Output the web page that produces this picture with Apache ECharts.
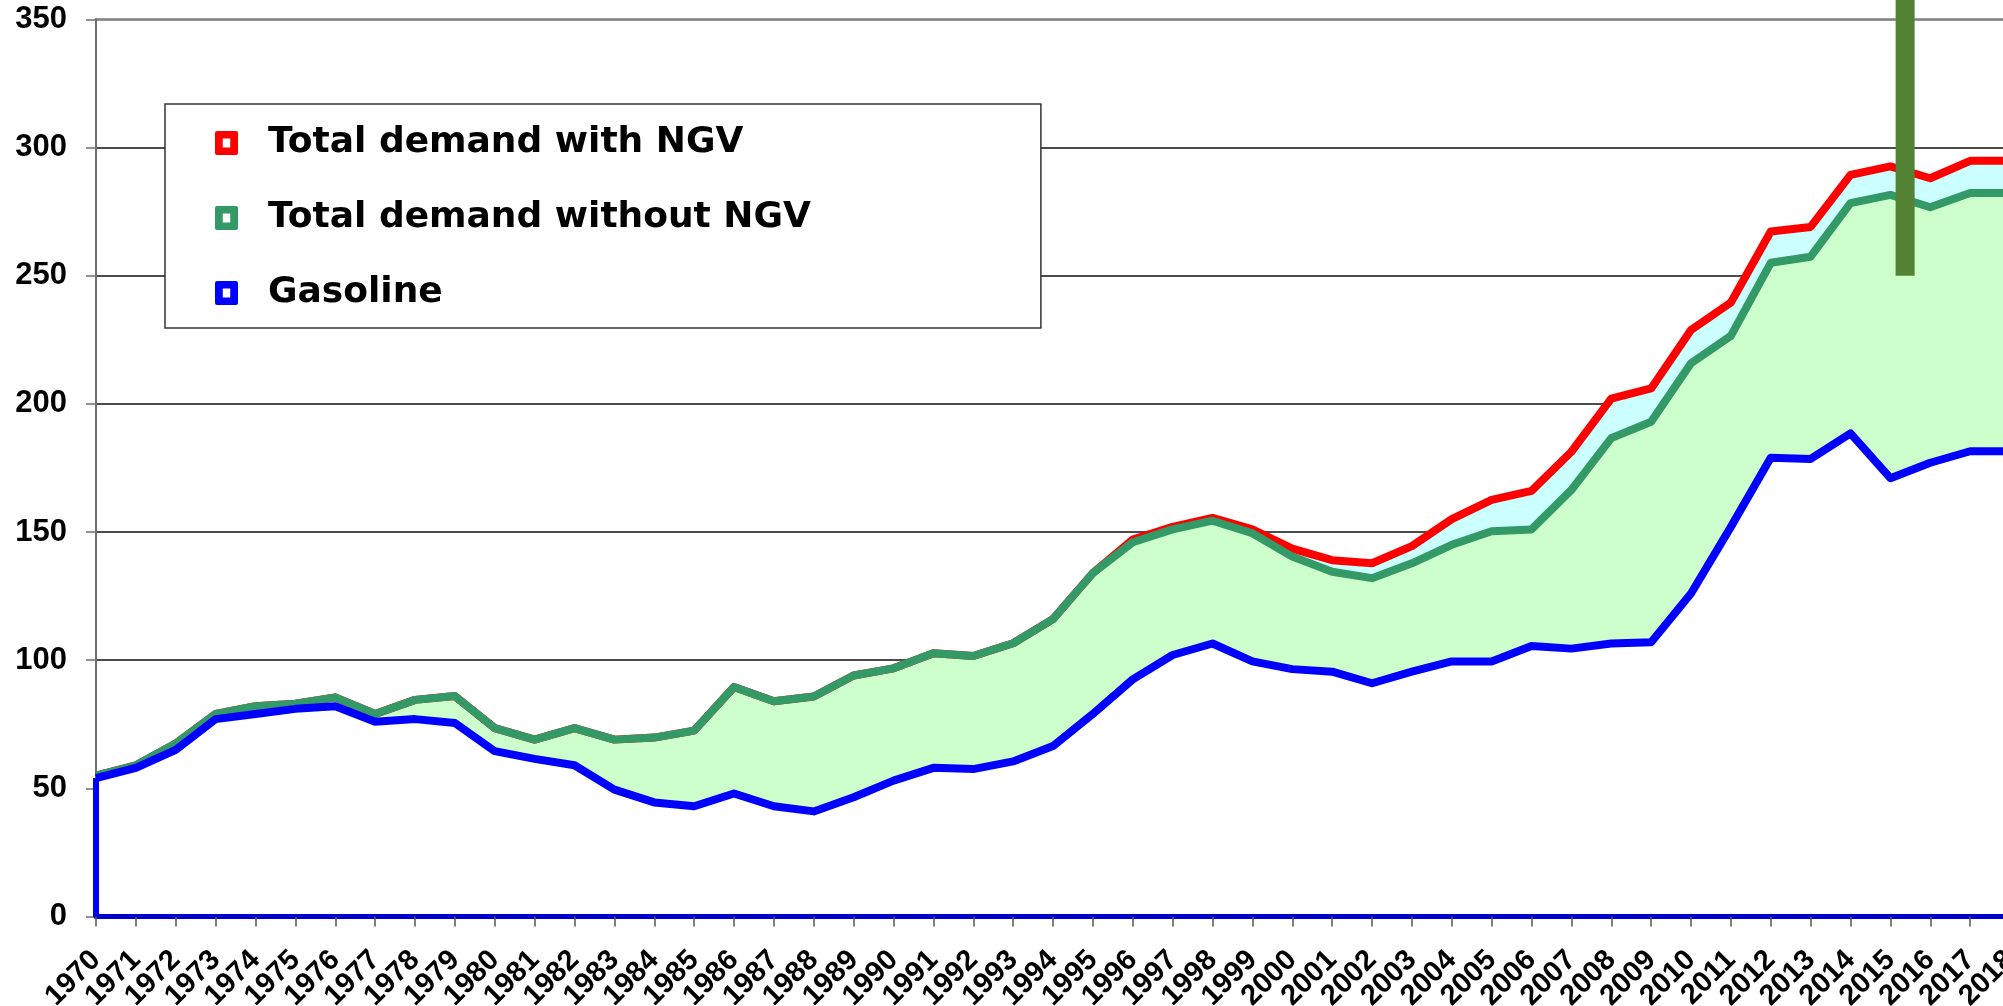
<!DOCTYPE html>
<html>
<head>
<meta charset="utf-8">
<script src="https://cdn.jsdelivr.net/npm/echarts@6/dist/echarts.min.js"></script>
<style>
html,body{margin:0;padding:0;background:#fff;}
#chart{width:2003px;height:1006px;}
</style>
</head>
<body>
<div id="chart"></div>
<script>
// ---- data ----
const years = ['1970','1971','1972','1973','1974','1975','1976','1977','1978','1979',
  '1980','1981','1982','1983','1984','1985','1986','1987','1988','1989',
  '1990','1991','1992','1993','1994','1995','1996','1997','1998','1999',
  '2000','2001','2002','2003','2004','2005','2006','2007','2008','2009',
  '2010','2011','2012','2013','2014','2015','2016','2017','2018'];

const totalWithNGV = [55, 59, 67.5, 79, 82, 83, 85.5, 79, 84.5, 86,
  73.5, 69, 73.5, 69, 69.8, 72.5, 89.5, 84, 85.8, 94,
  96.8, 102.7, 101.6, 106.6, 116, 134, 147, 152, 155.5, 151,
  143.5, 139, 137.8, 144.5, 155, 162.5, 166, 181.3, 202, 206,
  228.8, 239.5, 267.2, 269, 289.3, 292.6, 288, 294.8, 294.8];

const totalWithoutNGV = [55, 59, 67.5, 79, 82, 83, 85.5, 79, 84.5, 86,
  73.5, 69, 73.5, 69, 69.8, 72.5, 89.5, 84, 85.8, 94,
  96.8, 102.7, 101.6, 106.6, 116, 134, 146, 151, 154.4, 149.5,
  140.4, 134.5, 132, 137.8, 145, 150.3, 151, 166.4, 186.6, 193,
  215.8, 226.5, 255, 257.4, 278.3, 281.5, 276.7, 282.2, 282.2];

const gasoline = [54, 58, 65, 77, 79, 81, 82, 76, 77, 75.5,
  64.5, 61.5, 59, 49.5, 44.5, 43, 48, 43, 41, 46.5,
  53, 58, 57.5, 60.5, 66.5, 79, 92.5, 102, 106.5, 99.5,
  96.5, 95.5, 91, 95.5, 99.5, 99.5, 105.5, 104.5, 106.5, 107,
  126, 152, 179, 178.5, 188.5, 171, 177, 181.5, 181.5];

const seriesNames = ['Total demand with NGV', 'Total demand without NGV', 'Gasoline'];
const yMin = 0, yMax = 350, yStep = 50;

// vertical marker (year position, value range)
const markerYear = 2015.37;
const markerRange = [250, 362];

// ---- chart ----
const chart = echarts.init(document.getElementById('chart'), null, {renderer: 'canvas'});

const labelFont = '"Liberation Sans", Arial, sans-serif';
const iconPath = 'path://M2,0H21Q23,0,23,2V22Q23,24,21,24H2Q0,24,0,22V2Q0,0,2,0Z M7.75,7.5V16.5H15.25V7.5Z';

const splitColors = [];
for (let v = yMin; v <= yMax; v += yStep) splitColors.push(v === yMax ? '#808080' : '#111');

function lineSeries(name, data, lineColor, fillColor, extra) {
  return Object.assign({
    name: name,
    type: 'line',
    data: data,
    symbol: 'none',
    smooth: false,
    lineStyle: {color: lineColor, width: 8, join: 'round'},
    itemStyle: {color: lineColor},
    areaStyle: {color: fillColor, opacity: 1},
    z: 2,
    silent: true
  }, extra || {});
}

chart.setOption({
  animation: false,
  backgroundColor: '#ffffff',
  grid: {
    left: 96, right: -7, top: 19.3, bottom: 89.5,
    outerBoundsMode: 'none',
    containLabel: false,
    show: true, borderColor: '#808080', borderWidth: 2, backgroundColor: 'transparent'
  },
  legend: {
    orient: 'vertical',
    left: 165, top: 104,
    padding: [21, 230, 17, 50],
    itemGap: 39,
    itemWidth: 23, itemHeight: 24,
    icon: iconPath,
    backgroundColor: '#ffffff',
    borderColor: '#333333',
    borderWidth: 1.5,
    selectedMode: false,
    itemStyle: {borderWidth: 0},
    textStyle: {
      fontFamily: '"DejaVu Sans", sans-serif', fontWeight: 'bold', fontSize: 36,
      color: '#000', lineHeight: 36, padding: [0, 0, 0, 25]
    },
    data: seriesNames
  },
  xAxis: [{
    type: 'category',
    data: years,
    boundaryGap: false,
    z: 6,
    axisLine: {show: true, lineStyle: {color: '#0000cc', width: 5}},
    axisTick: {show: true, interval: 0, length: 10, lineStyle: {color: '#555', width: 1.5}},
    axisLabel: {
      interval: 0, rotate: 45, margin: 39,
      fontFamily: labelFont, fontWeight: 'bold', fontSize: 29, color: '#000'
    },
    splitLine: {show: false}
  }, {
    type: 'value',
    min: 1970, max: 2018,
    show: false,
    gridIndex: 0
  }],
  yAxis: {
    type: 'value',
    min: yMin, max: yMax, interval: yStep,
    axisLine: {show: true, lineStyle: {color: '#707070', width: 2}},
    axisTick: {show: true, length: 10, lineStyle: {color: '#707070', width: 1.5}},
    axisLabel: {
      margin: 29, fontFamily: labelFont, fontWeight: 'bold', fontSize: 31, color: '#000'
    },
    splitLine: {show: true, lineStyle: {color: splitColors, width: 1.5}}
  },
  series: [
    lineSeries(seriesNames[0], totalWithNGV, '#ff0000', '#ccffff'),
    lineSeries(seriesNames[1], totalWithoutNGV, '#339966', '#ccffcc'),
    lineSeries(seriesNames[2], gasoline, '#0000ff', '#ffffff', {
      markLine: {
        silent: true,
        symbol: ['none', 'none'],
        label: {show: false},
        lineStyle: {color: '#0000ff', width: 6, type: 'solid'},
        data: [[{coord: [years[0], yMin]}, {coord: [years[0], gasoline[0]]}]]
      }
    }),
    {
      name: 'marker',
      type: 'line',
      xAxisIndex: 1,
      yAxisIndex: 0,
      data: [[markerYear, markerRange[0]], [markerYear, markerRange[1]]],
      symbol: 'none',
      clip: false,
      silent: true,
      z: 10,
      lineStyle: {color: '#548235', width: 19, cap: 'butt'}
    }
  ]
});
</script>
</body>
</html>
